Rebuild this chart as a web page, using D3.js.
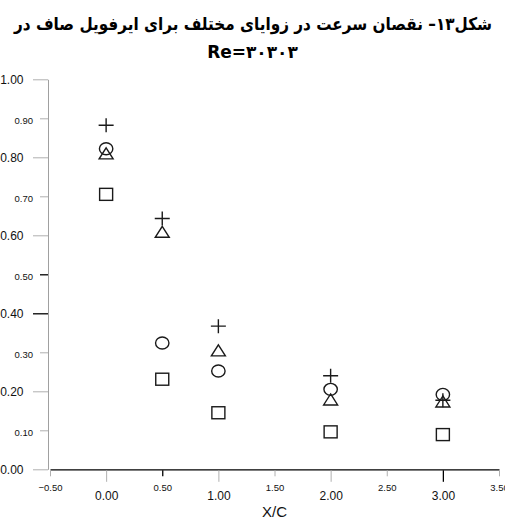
<!DOCTYPE html>
<html><head><meta charset="utf-8">
<script src="https://cdn.jsdelivr.net/npm/d3@7/dist/d3.min.js"></script>
<style>
body{margin:0;background:#fff}
svg{display:block;position:absolute;left:0;top:0}
#wrap{position:relative;width:505px;height:521px;overflow:hidden}
.title{position:absolute;left:-747.5px;width:2000px;text-align:center;white-space:nowrap;
  font-family:'DejaVu Sans',sans-serif;font-weight:bold;color:#000;line-height:1;transform-origin:50% 50%}
</style>
</head><body><div id="wrap"><svg id="chart" width="505" height="521"></svg></div>
<script>
// ---- data ----
const xValues = [0, 0.5, 1, 2, 3];
const plusValues = [0.882, 0.643, 0.367, 0.240, 0.177];
const circleValues = [0.822, 0.324, 0.252, 0.205, 0.192];
const triangleValues = [0.810, 0.609, 0.305, 0.179, 0.174];
const squareValues = [0.705, 0.231, 0.145, 0.096, 0.089];
const xTicks = [-0.5, 0, 0.5, 1, 1.5, 2, 2.5, 3, 3.5];
const yTicks = [0, 0.1, 0.2, 0.3, 0.4, 0.5, 0.6, 0.7, 0.8, 0.9, 1.0];
const titleLine1 = "شکل۱۳– نقصان سرعت در زوایای مختلف برای ایرفویل صاف در";
const titleLine2 = "Re=۳۰۳۰۳";
const xTitle = "X/C";
const darkYTicks = [0.4, 0.5];
const darkXTicks = [0.5, 3];

const wrap = d3.select("#wrap");
const svg = d3.select("#chart");
const x = d3.scaleLinear().domain([-0.5, 3.5]).range([50, 499]);
const y = d3.scaleLinear().domain([0, 1]).range([469.3, 79.3]);
const fmt = d3.format(".2f");
const near = (a, b) => Math.abs(a - b) < 1e-9;
const isMajorY = v => near(Math.round(v * 10) % 2, 0);
const isMajorX = v => near(v, Math.round(v));

// title (HTML for proper right-to-left layout)
const titleSize = 17.5;
const t1 = wrap.append("div").attr("class", "title").attr("dir", "rtl")
  .style("font-size", titleSize + "px").text(titleLine1);
const t2 = wrap.append("div").attr("class", "title").attr("dir", "ltr")
  .style("font-size", "17px").text(titleLine2);
// fit first line to the width it occupies in the reference
const probe = wrap.append("span").style("position", "absolute").style("visibility", "hidden")
  .style("white-space", "nowrap").style("font-family", "'DejaVu Sans',sans-serif")
  .style("font-weight", "bold").style("font-size", titleSize + "px").text(titleLine1);
const w1 = probe.node().getBoundingClientRect().width;
probe.remove();
const sx = Math.min(1, 478 / w1);
t1.style("transform", `scaleX(${sx})`).style("top", (30 - titleSize * 0.8) + "px");
t2.style("top", (58 - 17 * 0.8) + "px");

// y axis
const yAxis = svg.append("g").attr("transform", "translate(48,0)")
  .call(d3.axisLeft(y).tickValues(yTicks).tickFormat(fmt).tickSizeOuter(0));
yAxis.select(".domain").attr("stroke", "#a0a0a0").attr("stroke-width", 1);
yAxis.selectAll(".tick").each(function(d) {
  const g = d3.select(this);
  const major = isMajorY(d);
  const dark = darkYTicks.some(v => near(v, d));
  g.select("line").attr("x2", major ? -15 : -8)
    .attr("stroke", dark ? "#000" : "#b0b0b0").attr("stroke-width", dark ? 1.3 : 1);
  g.select("text").attr("x", major ? -24.5 : -15).attr("dy", major ? "0.35em" : "0.5em")
    .style("font-family", "'Liberation Sans', Arial, sans-serif")
    .style("font-size", major ? "12px" : "9.5px").attr("fill", "#111");
});

// x axis
const xAxis = svg.append("g").attr("transform", "translate(0,469.3)")
  .call(d3.axisBottom(x).tickValues(xTicks).tickFormat(fmt).tickSizeOuter(0));
xAxis.select(".domain").attr("stroke", "#000").attr("stroke-width", 1.3);
xAxis.selectAll(".tick").each(function(d) {
  const g = d3.select(this);
  const major = isMajorX(d);
  const dark = darkXTicks.some(v => near(v, d));
  g.select("line").attr("y1", 1).attr("y2", major ? 12.5 : 7)
    .attr("stroke", dark ? "#000" : "#b0b0b0").attr("stroke-width", dark ? 1.3 : 1);
  g.select("text").attr("y", major ? 26.5 : 18).attr("dy", "0.35em")
    .style("font-family", "'Liberation Sans', Arial, sans-serif")
    .style("font-size", major ? "12px" : "9.5px").attr("fill", "#111");
});
svg.append("text").attr("x", x(1.5)).attr("y", 516.5).attr("text-anchor", "middle")
  .style("font-family", "'Liberation Sans', Arial, sans-serif").style("font-size", "15px").attr("fill", "#111")
  .text(xTitle);

// markers
const marks = svg.append("g").attr("fill", "none").attr("stroke", "#1a1a1a").attr("stroke-width", 1.4);
const pts = vals => xValues.map((v, i) => [x(v), y(vals[i])]);
marks.selectAll(".sq").data(pts(squareValues)).join("rect")
  .attr("x", d => d[0] - 6.5).attr("y", d => d[1] - 6).attr("width", 13).attr("height", 12);
marks.selectAll(".ci").data(pts(circleValues)).join("ellipse")
  .attr("cx", d => d[0]).attr("cy", d => d[1]).attr("rx", 6.7).attr("ry", 6);
marks.selectAll(".tr").data(pts(triangleValues)).join("path")
  .attr("d", d => `M${d[0]},${d[1] - 5.5}L${d[0] + 7},${d[1] + 5.5}L${d[0] - 7},${d[1] + 5.5}Z`);
marks.selectAll(".pl").data(pts(plusValues)).join("path")
  .attr("d", d => `M${d[0] - 7.5},${d[1]}H${d[0] + 7.5}M${d[0]},${d[1] - 7}V${d[1] + 7}`);
</script></body></html>
